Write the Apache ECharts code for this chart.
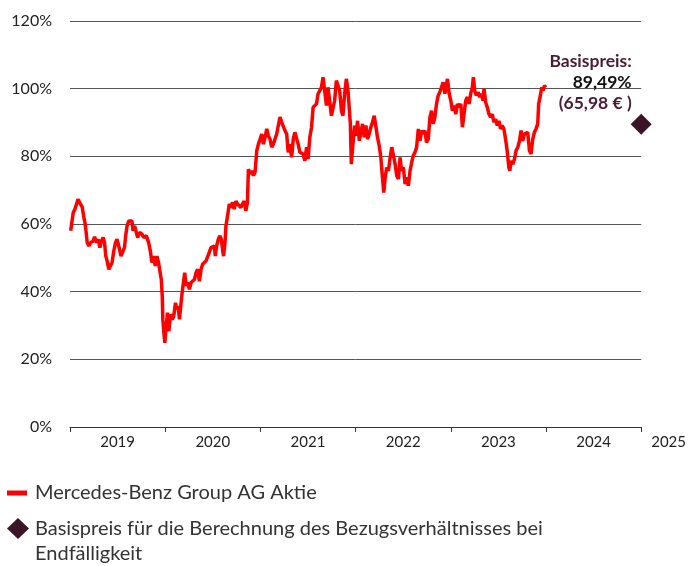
<!DOCTYPE html>
<html>
<head>
<meta charset="utf-8">
<script src="https://cdn.jsdelivr.net/npm/echarts@6/dist/echarts.min.js"></script>
<style>
html,body{margin:0;padding:0;background:#fff;}
#chart{width:689px;height:566px;}
</style>
</head>
<body>
<div id="chart"></div>
<script>
// Time in decimal years, value in % of strike reference
const dates = [
2019.007,2019.014,2019.034,2019.052,2019.066,2019.084,2019.105,2019.129,2019.146,2019.157,2019.164,2019.181,2019.199,2019.216,2019.244,2019.258,2019.279,2019.296,2019.314,2019.331,2019.348,2019.363,2019.376,2019.390,2019.408,2019.425,2019.442,2019.460,2019.478,2019.494,2019.512,2019.536,2019.554,2019.572,2019.585,2019.599,2019.617,2019.635,2019.651,2019.662,2019.679,2019.697,2019.711,2019.732,2019.756,2019.774,2019.802,2019.826,2019.844,2019.860,2019.878,2019.896,2019.913,2019.930,
2019.959,2019.969,2019.975,2019.986,2019.996,2020.011,2020.024,2020.038,2020.056,2020.074,2020.090,2020.108,2020.122,2020.136,2020.150,2020.163,2020.178,2020.192,2020.205,2020.220,2020.237,2020.254,2020.272,2020.289,2020.307,2020.324,2020.341,2020.359,2020.377,2020.393,2020.411,2020.429,2020.446,2020.463,2020.481,2020.498,2020.516,2020.526,2020.540,2020.558,2020.575,2020.589,2020.602,2020.613,2020.628,2020.638,2020.655,2020.673,2020.690,2020.707,2020.725,2020.743,2020.759,2020.777,2020.795,2020.812,2020.829,2020.847,2020.864,2020.874,2020.892,2020.910,2020.927,
2020.944,2020.962,2020.979,2020.997,2021.014,2021.031,2021.049,2021.067,2021.083,2021.101,2021.119,2021.136,2021.153,2021.171,2021.188,2021.206,2021.223,2021.240,2021.258,2021.276,2021.292,2021.310,2021.328,2021.345,2021.362,2021.380,2021.397,2021.415,2021.432,2021.449,2021.467,2021.485,2021.501,2021.519,2021.537,2021.554,2021.571,2021.589,2021.606,2021.624,2021.641,2021.658,2021.676,2021.694,2021.710,2021.728,2021.746,2021.763,2021.780,2021.798,2021.815,2021.833,2021.851,2021.867,2021.885,2021.903,2021.920,
2021.945,2021.955,2021.969,2021.990,2022.003,2022.021,2022.039,2022.055,2022.073,2022.091,2022.108,2022.125,2022.143,2022.160,2022.178,2022.196,2022.212,2022.230,2022.248,2022.265,2022.282,2022.296,2022.311,2022.327,2022.345,2022.363,2022.380,2022.397,2022.415,2022.432,2022.450,2022.467,2022.484,2022.502,2022.520,2022.536,2022.554,2022.572,2022.589,2022.606,2022.624,2022.641,2022.659,2022.676,2022.693,2022.711,2022.729,2022.745,2022.763,2022.781,2022.798,2022.815,2022.833,2022.850,2022.868,2022.885,2022.902,2022.920,2022.938,
2022.965,2022.983,2023.000,2023.017,2023.035,2023.053,2023.069,2023.087,2023.105,2023.122,2023.139,2023.157,2023.174,2023.192,2023.209,2023.226,2023.237,2023.251,2023.268,2023.286,2023.304,2023.320,2023.338,2023.349,2023.366,2023.383,2023.401,2023.419,2023.435,2023.453,2023.471,2023.488,2023.505,2023.523,2023.540,2023.558,2023.575,2023.592,2023.610,2023.620,2023.634,2023.652,2023.669,2023.686,2023.704,2023.722,2023.738,2023.756,2023.774,2023.791,2023.808,2023.826,2023.843,2023.861,2023.878,2023.895,2023.913,2023.923,2023.941,2023.955,2023.968,2023.983,2023.997
];
const values = [
58.0,59.4,63.4,64.4,64.1,67.3,66.8,64.9,61.9,60.4,59.0,54.5,53.5,54.5,55.0,56.2,54.5,55.5,53.0,55.0,56.0,54.5,50.5,49.1,46.6,47.1,48.6,52.0,54.5,55.5,53.5,50.5,50.1,53.0,56.5,59.4,60.9,61.4,60.9,58.0,59.4,57.5,56.0,57.5,57.0,56.0,56.5,54.5,52.0,48.6,50.5,47.6,50.5,48.6,
43.6,38.7,31.8,27.9,24.9,29.8,33.8,28.3,33.3,31.8,32.8,36.7,34.8,35.7,31.8,35.7,39.7,42.7,45.6,41.7,42.7,40.7,42.7,42.7,43.6,45.6,46.6,43.1,46.6,48.1,48.6,49.1,49.6,51.6,53.0,52.5,53.5,50.5,53.5,55.5,56.5,55.5,52.5,50.5,54.5,59.4,62.4,65.9,64.9,66.4,64.4,66.8,65.9,66.4,64.9,65.9,66.8,63.9,66.4,76.2,74.8,75.7,74.3,
75.3,81.7,83.6,85.1,86.6,83.6,85.6,88.1,86.1,85.1,82.7,83.6,83.1,86.6,89.1,91.6,90.1,89.6,87.6,86.6,81.2,83.6,79.7,85.1,87.1,86.6,83.6,81.2,81.7,80.7,78.7,82.7,79.2,85.6,88.6,94.5,95.0,95.5,98.5,99.4,100.4,103.4,102.9,95.0,100.4,100.9,92.0,91.6,96.5,102.4,102.4,99.4,93.5,92.0,98.5,102.9,99.4,
89.6,77.7,82.7,89.1,86.1,90.5,84.6,85.1,89.6,85.6,89.1,85.1,86.6,88.6,90.1,92.0,92.5,85.6,83.1,79.7,73.8,69.3,73.8,76.7,75.7,79.7,82.7,83.1,77.7,74.3,73.3,79.7,75.7,76.7,71.8,73.8,71.3,75.7,78.2,80.2,81.2,82.7,88.1,84.6,87.6,86.6,87.6,84.1,85.1,91.6,93.5,89.6,91.6,95.5,98.0,99.0,100.4,101.9,98.5,
102.9,98.5,96.5,93.5,95.0,92.5,95.5,94.5,95.5,88.6,92.5,96.5,97.5,95.5,98.5,100.4,103.4,99.4,98.0,99.0,97.5,98.5,96.5,100.0,96.0,94.5,92.5,91.6,92.5,90.1,91.0,89.1,90.5,88.1,89.1,88.1,85.1,81.7,76.7,75.7,78.7,77.7,79.2,81.7,82.7,84.6,87.6,84.6,86.6,86.1,87.1,81.7,80.7,85.1,87.1,88.1,89.6,95.5,98.0,100.4,99.4,100.9,100.4
];
const yearLabels = ['2019','2020','2021','2022','2023','2024'];
const lastYearLabel = 2025;
const yTicks = [0, 20, 40, 60, 80, 100, 120];
const strikeDate = [2025.0];
const strikePct = [89.49];
const strikePctText = ['89,49%'];
const strikeEurText = ['(65,98 € )'];
const seriesNames = ['Mercedes-Benz Group AG Aktie', 'Basispreis für die Berechnung des Bezugsverhältnisses bei Endfälligkeit'];

const FONT = 'Lato';
const chart = echarts.init(document.getElementById('chart'), null, {renderer: 'canvas'});
const lineData = dates.map((d, i) => [d, values[i]]);

chart.setOption({
  animation: false,
  backgroundColor: '#fff',
  textStyle: {fontFamily: FONT},
  grid: {left: 70, right: 45, top: 21, bottom: 139, containLabel: false},
  xAxis: [
    {
      type: 'value', min: 2019, max: lastYearLabel, interval: 1,
      axisLine: {show: false}, axisTick: {show: false}, splitLine: {show: false},
      axisLabel: {
        showMinLabel: false, showMaxLabel: true,
        formatter: v => (v === lastYearLabel ? String(lastYearLabel) : ''),
        align: 'left', padding: [0, 0, 0, 10], margin: 8,
        fontFamily: FONT, fontSize: 15, color: '#222'
      }
    },
    {
      type: 'category', data: yearLabels, boundaryGap: true, position: 'bottom',
      axisLine: {show: true, lineStyle: {color: '#333', width: 1}},
      axisTick: {show: true, alignWithLabel: false, length: 5, lineStyle: {color: '#333'}},
      axisLabel: {fontFamily: FONT, fontSize: 15, color: '#222', margin: 8},
      splitLine: {show: false}
    }
  ],
  yAxis: {
    type: 'value', min: yTicks[0], max: yTicks[yTicks.length - 1], interval: 20,
    axisLine: {show: false}, axisTick: {show: false},
    axisLabel: {formatter: '{value}%', fontFamily: FONT, fontSize: 16, color: '#222', margin: 18},
    splitLine: {lineStyle: {color: '#555', width: 1}}
  },
  legend: [
    {
      data: [{name: seriesNames[0], icon: 'rect'}],
      left: 7, top: 483, padding: 0,
      itemWidth: 20, itemHeight: 5,
      textStyle: {fontFamily: FONT, fontSize: 20, color: '#333', padding: [0, 0, 0, 3]},
      selectedMode: false
    },
    {
      data: [{name: seriesNames[1], icon: 'diamond', itemStyle: {color: '#3c1427', opacity: 1}}],
      left: 7, top: 491, padding: 0,
      itemWidth: 22, itemHeight: 21,
      formatter: () => '\nBasispreis für die Berechnung des Bezugsverhältnisses bei\nEndfälligkeit',
      textStyle: {fontFamily: FONT, fontSize: 20, color: '#333', lineHeight: 25, padding: [0, 0, 0, 1]},
      selectedMode: false
    }
  ],
  series: [
    {
      name: seriesNames[0], type: 'line', xAxisIndex: 0, data: lineData,
      showSymbol: false, symbol: 'none', sampling: 'none', smooth: false,
      lineStyle: {color: '#ff0000', width: 3.5}, itemStyle: {color: '#ff0000'},
      clip: false, z: 3
    },
    {
      name: seriesNames[1], type: 'scatter', xAxisIndex: 0,
      data: [[strikeDate[0], strikePct[0]]],
      symbol: 'diamond', symbolSize: 21, clip: false,
      itemStyle: {color: '#3c1427', opacity: 1},
      label: {
        show: true, position: [1, 0], align: 'right', verticalAlign: 'bottom',
        formatter: '{a|Basispreis:}\n{b|' + strikePctText[0] + '}\n{c|' + strikeEurText[0] + '}',
        rich: {
          a: {fontFamily: FONT, fontSize: 17.5, fontWeight: 'bold', color: '#4a1c33', lineHeight: 21, align: 'right'},
          b: {fontFamily: FONT, fontSize: 17.5, fontWeight: 'bold', color: '#111', lineHeight: 21, align: 'right'},
          c: {fontFamily: FONT, fontSize: 17.5, fontWeight: 'bold', color: '#4a1c33', lineHeight: 21, align: 'right'}
        }
      },
      emphasis: {disabled: true},
      z: 4
    }
  ]
});
</script>
</body>
</html>
